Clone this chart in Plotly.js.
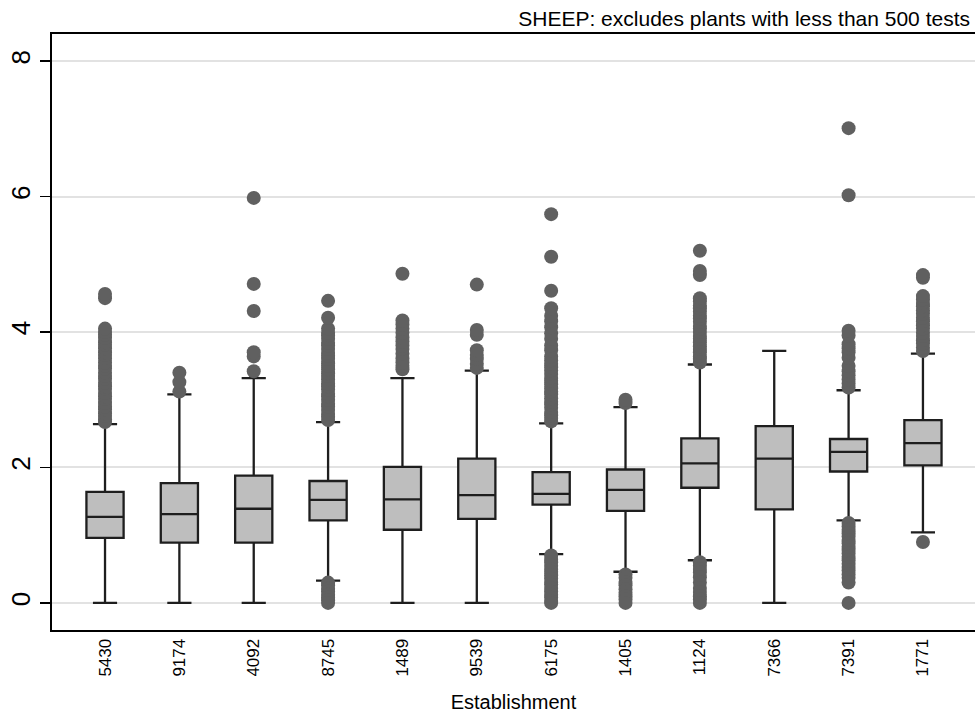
<!DOCTYPE html>
<html>
<head>
<meta charset="utf-8">
<script src="https://cdn.plot.ly/plotly-3.0.1.min.js"></script>
<style>
  html, body { margin: 0; padding: 0; background: #ffffff; }
  #chart { width: 975px; height: 713px; }
</style>
</head>
<body>
<div id="chart"></div>
<script>
// Establishments, in plotting order
const establishments = ['5430', '9174', '4092', '8745', '1489', '9539', '6175', '1405', '1124', '7366', '7391', '1771'];

// Box statistics per establishment
const q1Values      = [0.96, 0.89, 0.89, 1.22, 1.08, 1.24, 1.45, 1.36, 1.70, 1.38, 1.94, 2.03];
const medianValues  = [1.27, 1.31, 1.39, 1.52, 1.53, 1.59, 1.61, 1.67, 2.06, 2.13, 2.23, 2.36];
const q3Values      = [1.64, 1.77, 1.88, 1.80, 2.01, 2.13, 1.93, 1.97, 2.43, 2.61, 2.42, 2.70];
const lowerWhisker  = [0.00, 0.00, 0.00, 0.33, 0.00, 0.00, 0.72, 0.46, 0.63, 0.00, 1.22, 1.04];
const upperWhisker  = [2.64, 3.08, 3.32, 2.67, 3.32, 3.43, 2.65, 2.89, 3.52, 3.72, 3.14, 3.68];

// Outside values per establishment
const outliers5430 = [2.67, 2.71, 2.76, 2.80, 2.86, 2.90, 2.95, 3.01, 3.05, 3.10, 3.16, 3.20, 3.25, 3.31,
  3.35, 3.40, 3.46, 3.50, 3.55, 3.61, 3.66, 3.70, 3.76, 3.81, 3.85, 3.91, 3.96, 4.00, 4.05, 4.50, 4.56];
const outliers9174 = [3.12, 3.26, 3.40];
const outliers4092 = [3.42, 3.64, 3.70, 4.31, 4.71, 5.98];
const outliers8745 = [2.70, 2.75, 2.79, 2.85, 2.90, 2.94, 3.00, 3.05, 3.09, 3.15, 3.20, 3.24, 3.30, 3.35,
  3.39, 3.45, 3.50, 3.54, 3.60, 3.65, 3.69, 3.75, 3.80, 3.84, 3.90, 3.95, 3.99, 4.05, 4.21, 4.46,
  0.30, 0.26, 0.21, 0.17, 0.12, 0.08, 0.04, 0.00];
const outliers1489 = [3.45, 3.50, 3.55, 3.61, 3.68, 3.75, 3.80, 3.86, 3.92, 3.99, 4.05, 4.11, 4.17, 4.86];
const outliers9539 = [3.47, 3.53, 3.60, 3.66, 3.73, 3.96, 4.03, 4.70];
const outliers6175 = [2.68, 2.73, 2.77, 2.82, 2.88, 2.93, 2.97, 3.02, 3.08, 3.12, 3.17, 3.23, 3.28, 3.32,
  3.38, 3.43, 3.48, 3.53, 3.58, 3.64, 3.73, 3.80, 3.90, 3.98, 4.07, 4.16, 4.24, 4.35, 4.61, 5.11, 5.74,
  0.70, 0.65, 0.60, 0.55, 0.50, 0.46, 0.41, 0.36, 0.31, 0.27, 0.22, 0.17, 0.12, 0.08, 0.03, 0.00];
const outliers1405 = [2.95, 3.00, 0.42, 0.37, 0.31, 0.26, 0.20, 0.15, 0.10, 0.05, 0.00];
const outliers1124 = [3.55, 3.60, 3.64, 3.70, 3.75, 3.79, 3.85, 3.90, 3.94, 4.00, 4.05, 4.09, 4.15, 4.20,
  4.24, 4.30, 4.35, 4.39, 4.45, 4.50, 4.84, 4.90, 5.20,
  0.60, 0.55, 0.50, 0.45, 0.38, 0.30, 0.22, 0.16, 0.10, 0.05, 0.00];
const outliers7366 = [];
const outliers7391 = [3.18, 3.24, 3.30, 3.36, 3.42, 3.50, 3.62, 3.70, 3.76, 3.82, 3.95, 4.02, 6.02, 7.01,
  1.18, 1.13, 1.08, 1.03, 0.98, 0.93, 0.88, 0.83, 0.78, 0.73, 0.68, 0.63, 0.58, 0.53, 0.48, 0.42,
  0.37, 0.30, 0.00];
const outliers1771 = [3.72, 3.77, 3.83, 3.88, 3.94, 3.99, 4.05, 4.10, 4.16, 4.21, 4.27, 4.32, 4.38, 4.43,
  4.48, 4.53, 4.80, 4.84, 0.90];

const outlierLists = [outliers5430, outliers9174, outliers4092, outliers8745, outliers1489, outliers9539,
  outliers6175, outliers1405, outliers1124, outliers7366, outliers7391, outliers1771];

// Flatten the outside values into one marker trace
const outX = [];
const outY = [];
outlierLists.forEach((vals, i) => {
  vals.forEach(v => { outX.push(establishments[i]); outY.push(v); });
});

const boxTrace = {
  type: 'box',
  x: establishments,
  q1: q1Values,
  median: medianValues,
  q3: q3Values,
  lowerfence: lowerWhisker,
  upperfence: upperWhisker,
  boxpoints: false,
  width: 0.5,
  whiskerwidth: 0.65,
  fillcolor: '#bebebe',
  line: { color: '#1e1e1e', width: 2.3 },
  hoverinfo: 'skip'
};

const outlierTrace = {
  type: 'scatter',
  mode: 'markers',
  x: outX,
  y: outY,
  marker: { color: '#606060', size: 14, line: { width: 0 } },
  hoverinfo: 'skip'
};

const layout = {
  width: 975,
  height: 713,
  margin: { l: 52, r: 0, t: 34, b: 83, pad: 0 },
  paper_bgcolor: '#ffffff',
  plot_bgcolor: '#ffffff',
  showlegend: false,
  hovermode: false,
  font: { family: '"Liberation Sans", Arial, sans-serif', color: '#000000' },
  title: {
    text: 'SHEEP: excludes plants with less than 500 tests',
    font: { size: 21, color: '#000000' },
    xref: 'container', x: 970 / 975, xanchor: 'right',
    yref: 'container', y: 1 - 19 / 713, yanchor: 'middle'
  },
  xaxis: {
    type: 'category',
    categoryorder: 'array',
    categoryarray: establishments,
    range: [-0.713, 11.70],
    showline: true,
    linecolor: '#000000',
    linewidth: 2,
    mirror: true,
    ticks: '',
    tickangle: -90,
    tickfont: { size: 17, color: '#000000' },
    showgrid: false,
    zeroline: false,
    automargin: false,
    title: { text: 'Establishment', font: { size: 20, color: '#000000' }, standoff: 20 }
  },
  yaxis: {
    range: [-0.4, 8.4],
    tickvals: [0, 2, 4, 6, 8],
    ticktext: ['0', '2', '4', '6', '8'],
    showline: true,
    linecolor: '#000000',
    linewidth: 2,
    mirror: false,
    ticks: 'outside',
    ticklen: 10,
    tickwidth: 1.5,
    tickcolor: '#000000',
    tickangle: -90,
    tickfont: { size: 26, color: '#000000' },
    showgrid: true,
    gridcolor: '#e2e2e2',
    gridwidth: 2,
    zeroline: false,
    automargin: false
  }
};

Plotly.newPlot('chart', [boxTrace, outlierTrace], layout, { staticPlot: true, displayModeBar: false });
</script>
</body>
</html>
